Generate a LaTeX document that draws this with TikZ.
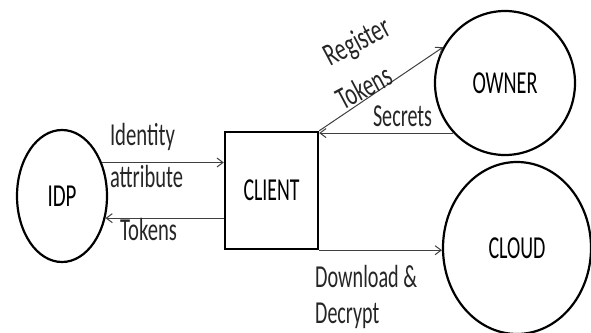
\documentclass[tikz,border=0pt]{standalone}
\usepackage{fontspec}
\setmainfont{Carlito}
\usetikzlibrary{shapes.geometric,arrows.meta}
\newcommand{\fw}[2]{\resizebox{#1pt}{\height}{#2}}
\tikzset{
  lbl/.style={inner sep=0pt, font=\fontsize{32}{34}\selectfont, text=black!85},
  ell/.style={ellipse, draw=black, line width=2.2pt, inner sep=0pt, font=\fontsize{32}{34}\selectfont},
  boxnode/.style={rectangle, draw=black, line width=2.4pt, inner sep=0pt, font=\fontsize{32}{34}\selectfont},
  arr/.style={draw=black!75, line width=1pt, -{Straight Barb[length=6pt,width=9pt]}}
}
\begin{document}
\begin{tikzpicture}[x=1pt,y=-1pt]
\useasboundingbox[fill=white] (0,0) rectangle (591,332);
\node[ell, minimum width=90pt, minimum height=132pt] (idp) at (62,196) {\fw{29}{IDP}};
\node[boxnode, minimum width=93pt, minimum height=117pt] (client) at (271.5,190.5) {\fw{56}{CLIENT}};
\node[ell, minimum width=140pt, minimum height=144pt] (owner) at (505,83) {\fw{65}{OWNER}};
\node[ell, minimum width=148pt, minimum height=172pt] (cloud) at (517,248) {\fw{57}{CLOUD}};

\draw[arr] (idp.40) -- (idp.40 -| client.west);
\draw[arr] (idp.-27 -| client.west) -- (idp.-27);
\draw[arr] (owner.224) -- (owner.224 -| client.east);
\draw[arr] (client.north east) -- (owner.150);
\draw[arr] (client.south east) -- (client.south east -| cloud.west);

\node[lbl] (lid) at (142.5,137) {\fw{65}{Identity}};
\node[lbl] (lat) at (146.5,177) {\fw{73}{attribute}};
\node[lbl] (ltk) at (148.5,230) {\fw{57}{Tokens}};
\node[lbl] (lse) at (402.5,116) {\fw{59}{Secrets}};
\node[lbl, rotate=28] (lre) at (358,43) {\fw{70}{Register}};
\node[lbl, rotate=28] (lrt) at (364,87) {\fw{58}{Tokens}};
\node[lbl, anchor=west] (ldl) at (315,277) {\fw{102}{Download \&}};
\node[lbl, anchor=west] (ldc) at (315,316) {\fw{64}{Decrypt}};
\end{tikzpicture}
\end{document}
